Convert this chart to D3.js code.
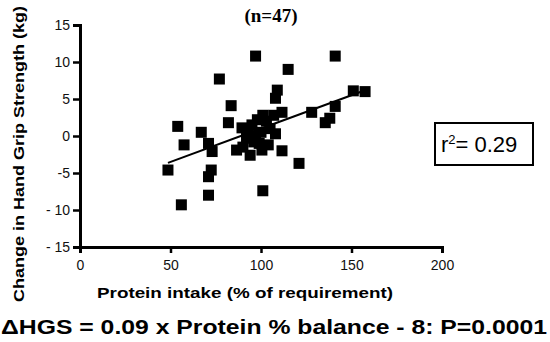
<!DOCTYPE html>
<html>
<head>
<meta charset="utf-8">
<script src="https://cdn.jsdelivr.net/npm/d3@7"></script>
<style>
  body { margin: 0; background: #fff; }
  svg { display: block; }
</style>
</head>
<body>
<div id="chart"></div>
<script>
// protein intake (% of requirement) vs change in hand grip strength (kg)
var proteinIntake = [48.6, 57.5, 56, 71, 72.5, 71, 73, 71, 67, 54,
    97, 77, 83.5, 82, 141, 115, 109, 108, 157.5, 151,
    141, 138, 135.5, 128, 111.6, 111.6, 121, 101, 86.5, 94,
    100.5, 89.5, 92, 95, 98, 100, 103, 105, 107, 96,
    99, 104, 93, 101, 108, 90, 97];
var gripChange = [-4.6, -1.2, -9.3, -8.0, -4.6, -5.5, -2.1, -1.0, 0.5, 1.3,
    10.8, 7.7, 4.1, 1.8, 10.8, 9.0, 6.2, 5.1, 6.0, 6.1,
    4.0, 2.4, 1.8, 3.2, 3.2, -2.0, -3.7, -7.4, -1.9, -2.6,
    -1.9, 1.1, -0.3, 1.5, 2.2, 0.5, 2.0, 1.0, 2.8, -0.8,
    -1.0, -1.2, 0.8, 2.8, 0.3, -1.5, 0.0];
var xTicks = [0, 50, 100, 150, 200];
var yTicks = [-15, -10, -5, 0, 5, 10, 15];
var fitSlope = 0.09, fitIntercept = -8;
var fitRange = [48.6, 157.5];

var _width = 550, _height = 342;

var svg = d3.select('#chart').append('svg')
    .attr('width', _width)
    .attr('height', _height);

var x = d3.scaleLinear().domain([0, 200]).range([80, 442]);
var y = d3.scaleLinear().domain([-15, 15]).range([247, 25]);

// AXES
// ----------------------------------------------------------------
var yAxis = svg.append('g')
    .attr('transform', 'translate(80,0)')
    .call(d3.axisLeft(y).tickValues(yTicks).tickSizeOuter(0).tickSize(7).tickPadding(3)
        .tickFormat(function (d) { return d <= -10 ? '- ' + (-d) : String(d); }));

var xAxis = svg.append('g')
    .attr('transform', 'translate(0,247)')
    .call(d3.axisBottom(x).tickValues(xTicks).tickSizeOuter(0).tickSize(6).tickPadding(7));

[xAxis, yAxis].forEach(function (g) {
    g.select('.domain').attr('stroke', '#000').attr('stroke-width', 3);
    g.selectAll('.tick line').attr('stroke', '#000').attr('stroke-width', 2.5);
    g.selectAll('.tick text')
        .attr('fill', '#111')
        .style('font-family', 'Arial, "Liberation Sans", sans-serif')
        .style('font-size', '14px');
});

// POINTS
// ----------------------------------------------------------------
var pts = proteinIntake.map(function (v, i) { return { x: v, y: gripChange[i] }; });
var size = 11;
svg.append('g').selectAll('rect')
    .data(pts)
    .enter().append('rect')
    .attr('x', function (d) { return x(d.x) - size / 2; })
    .attr('y', function (d) { return y(d.y) - size / 2; })
    .attr('width', size)
    .attr('height', size)
    .attr('fill', '#000');

// REGRESSION LINE
// ----------------------------------------------------------------
svg.append('line')
    .attr('x1', x(fitRange[0]))
    .attr('y1', y(fitSlope * fitRange[0] + fitIntercept))
    .attr('x2', x(fitRange[1]))
    .attr('y2', y(fitSlope * fitRange[1] + fitIntercept))
    .attr('stroke', '#000')
    .attr('stroke-width', 2);

// LABELS
// ----------------------------------------------------------------
svg.append('text')
    .attr('x', 271).attr('y', 22)
    .attr('text-anchor', 'middle')
    .style('font-family', '"Times New Roman", "Liberation Serif", serif')
    .style('font-weight', 'bold')
    .style('font-size', '19px')
    .text('(n=47)');

svg.append('text')
    .attr('transform', 'translate(24,154) rotate(-90)')
    .attr('text-anchor', 'middle')
    .attr('textLength', 296)
    .attr('lengthAdjust', 'spacingAndGlyphs')
    .style('font-family', 'Arial, "Liberation Sans", sans-serif')
    .style('font-weight', 'bold')
    .style('font-size', '14px')
    .text('Change in Hand Grip Strength (kg)');

svg.append('text')
    .attr('x', 245).attr('y', 298)
    .attr('text-anchor', 'middle')
    .attr('textLength', 296)
    .attr('lengthAdjust', 'spacingAndGlyphs')
    .style('font-family', 'Arial, "Liberation Sans", sans-serif')
    .style('font-weight', 'bold')
    .style('font-size', '14px')
    .text('Protein intake (% of requirement)');

svg.append('text')
    .attr('x', 1).attr('y', 334)
    .attr('textLength', 546)
    .attr('lengthAdjust', 'spacingAndGlyphs')
    .style('font-family', 'Arial, "Liberation Sans", sans-serif')
    .style('font-weight', 'bold')
    .style('font-size', '20px')
    .text('\u0394HGS = 0.09 x Protein % balance - 8: P=0.0001');

// R SQUARED BOX
// ----------------------------------------------------------------
var gR2 = svg.append('g');
gR2.append('rect')
    .attr('x', 435).attr('y', 123)
    .attr('width', 98).attr('height', 42)
    .attr('fill', '#fff')
    .attr('stroke', '#000')
    .attr('stroke-width', 2);
var r2Text = gR2.append('text')
    .attr('x', 441).attr('y', 152)
    .style('font-family', 'Arial, "Liberation Sans", sans-serif')
    .style('font-size', '22px');
r2Text.append('tspan').text('r');
r2Text.append('tspan').attr('dy', -8).style('font-size', '13px').text('2');
r2Text.append('tspan').attr('dy', 8).text('= 0.29');
</script>
</body>
</html>
